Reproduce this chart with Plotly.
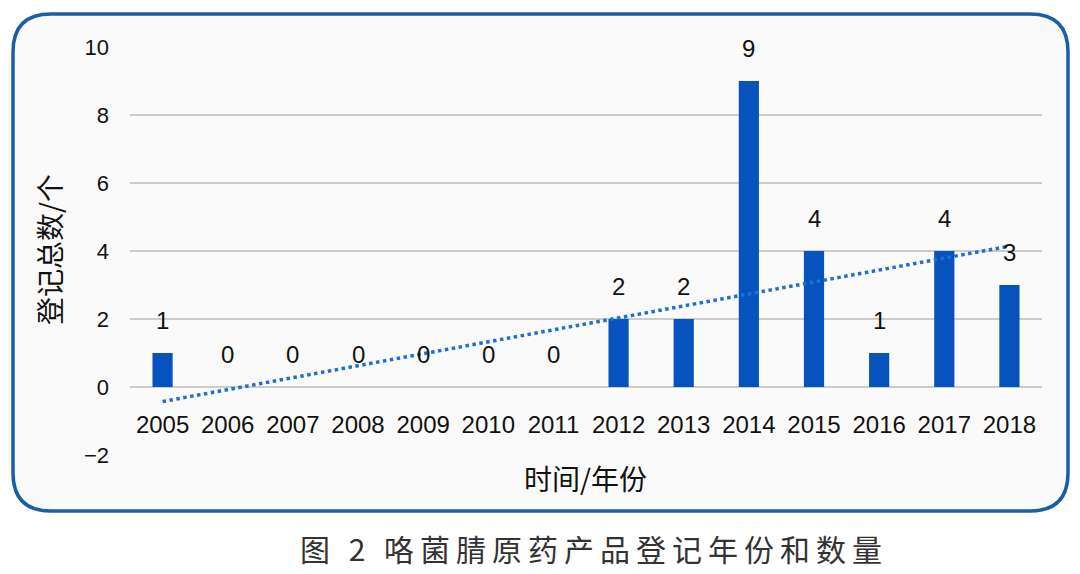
import numpy as np
import plotly.graph_objects as go

years = [2005, 2006, 2007, 2008, 2009, 2010, 2011, 2012, 2013, 2014, 2015, 2016, 2017, 2018]
counts = [1, 0, 0, 0, 0, 0, 0, 2, 2, 9, 4, 1, 4, 3]
year_labels = [str(y) for y in years]
y_ticks = [-2, 0, 2, 4, 6, 8, 10]

OFF = 8  # page body margin
W, H = 1080 - OFF, 574 - OFF
# target plot area in page pixels
PL, PR, PT, PB = 130, 1042, 47, 455
ML, MR, MT, MB = PL - OFF, W - (PR - OFF), PT - OFF, H - (PB - OFF)
PW, PH = W - ML - MR, H - MT - MB

def px_x(p):
    return (p - OFF - ML) / PW

def px_y(p):
    return (H - MB - (p - OFF)) / PH

# linear trendline (least squares, like Excel)
xi = np.arange(1, len(counts) + 1)
slope, intercept = np.polyfit(xi, counts, 1)
trend = slope * xi + intercept

fig = go.Figure()

fig.add_trace(go.Bar(
    x=years, y=counts, width=0.31,
    marker=dict(color="#0753bd", line=dict(width=0)),
    showlegend=False, hoverinfo="skip",
))
fig.add_trace(go.Scatter(
    x=years, y=trend, mode="lines",
    line=dict(color="#1f6fd0", width=3.5, dash="dot"),
    showlegend=False, hoverinfo="skip",
))

for yr, c in zip(years, counts):
    fig.add_annotation(
        x=yr, y=c, xref="x", yref="y", text=str(c), showarrow=False,
        xanchor="center", yanchor="middle", yshift=33,
        font=dict(family="Liberation Sans", size=24, color="#111111"),
    )

# rounded border box (page pixel coords converted to paper)
x0, x1, y0, y1, r = 13, 1068, 14, 511, 38
path = (
    f"M {px_x(x0 + r)} {px_y(y0)} L {px_x(x1 - r)} {px_y(y0)} "
    f"Q {px_x(x1)} {px_y(y0)} {px_x(x1)} {px_y(y0 + r)} "
    f"L {px_x(x1)} {px_y(y1 - r)} "
    f"Q {px_x(x1)} {px_y(y1)} {px_x(x1 - r)} {px_y(y1)} "
    f"L {px_x(x0 + r)} {px_y(y1)} "
    f"Q {px_x(x0)} {px_y(y1)} {px_x(x0)} {px_y(y1 - r)} "
    f"L {px_x(x0)} {px_y(y0 + r)} "
    f"Q {px_x(x0)} {px_y(y0)} {px_x(x0 + r)} {px_y(y0)} Z"
)
fig.add_shape(type="path", path=path, xref="paper", yref="paper",
              line=dict(color="#1b5fa3", width=3.5), fillcolor="#fafafa",
              layer="below")

# axis titles and caption
fig.add_annotation(
    x=px_x(49), y=px_y(250), xref="paper", yref="paper", text="登记总数/个",
    textangle=-90, showarrow=False, xanchor="center", yanchor="middle",
    font=dict(family="Noto Sans CJK SC", size=28, color="#111111"),
)
fig.add_annotation(
    x=px_x(585), y=px_y(478), xref="paper", yref="paper", text="时间/年份",
    showarrow=False, xanchor="center", yanchor="middle",
    font=dict(family="Noto Sans CJK SC", size=28, color="#111111"),
)
fig.add_annotation(
    x=px_x(594), y=px_y(548), xref="paper", yref="paper",
    text='<span style="letter-spacing:6px">图 2 咯菌腈原药产品登记年份和数量</span>',
    showarrow=False, xanchor="center", yanchor="middle",
    font=dict(family="Noto Sans CJK SC", size=30, color="#333333"),
)

zero_pos = (0 - (-2)) / (10 - (-2))

fig.update_layout(
    width=W, height=H,
    margin=dict(l=ML, r=MR, t=MT, b=MB),
    paper_bgcolor="white", plot_bgcolor="rgba(0,0,0,0)",
    xaxis=dict(
        range=[2004.5, 2018.5], tickvals=years, ticktext=year_labels,
        showgrid=False, zeroline=False, showline=False, ticks="",
        anchor="free", position=zero_pos, ticklabelstandoff=21,
        tickfont=dict(family="Liberation Sans", size=24, color="#111111"),
    ),
    yaxis=dict(
        range=[-2, 10], tickvals=y_ticks, showgrid=True, gridcolor="#cccccc",
        gridwidth=1.5, zeroline=False, showline=False, ticks="",
        ticklabelstandoff=20,
        tickfont=dict(family="Liberation Sans", size=22, color="#111111"),
    ),
)

fig.write_html("out.html")
